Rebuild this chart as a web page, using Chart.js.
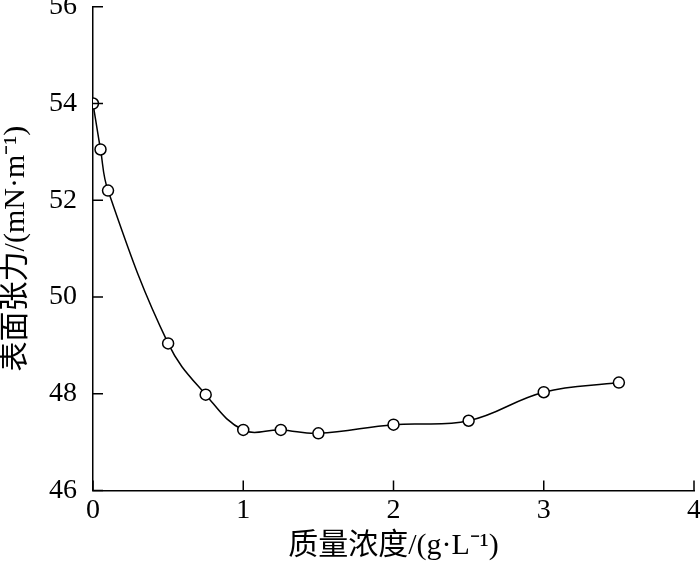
<!DOCTYPE html>
<html>
<head>
<meta charset="utf-8">
<script src="https://cdn.jsdelivr.net/npm/chart.js@4/dist/chart.umd.min.js"></script>
<style>
  html, body { margin: 0; padding: 0; background: #fff; overflow: hidden; }
  #wrap { position: absolute; left: 0; top: -26px; width: 711px; height: 593px; }
</style>
</head>
<body>
<div id="wrap"><canvas id="ch"></canvas></div>
<script>
// 质量浓度 (g/L) vs 表面张力 (mN/m)
const concentration = [0, 0.05, 0.1, 0.5, 0.75, 1.0, 1.25, 1.5, 2.0, 2.5, 3.0, 3.5];
const tension = [54.0, 53.05, 52.2, 49.04, 47.98, 47.25, 47.25, 47.18, 47.36, 47.44, 48.03, 48.23];
const xTitle = '质量浓度/(g·L⁻¹)';
const yTitle = '表面张力/(mN·m⁻¹)';

const fontFamily = "'Liberation Serif', 'Noto Sans CJK SC', serif";
const ink = '#000';

// ticks drawn inward from the axes
const inwardTicks = {
  id: 'inwardTicks',
  afterDraw(chart) {
    const { ctx, chartArea, scales } = chart;
    const len = 10;
    ctx.save();
    ctx.strokeStyle = ink;
    ctx.lineWidth = 1.5;
    ctx.beginPath();
    scales.x.ticks.forEach(t => {
      const px = scales.x.getPixelForValue(t.value);
      ctx.moveTo(px, chartArea.bottom);
      ctx.lineTo(px, chartArea.bottom - len);
    });
    scales.y.ticks.forEach(t => {
      const py = scales.y.getPixelForValue(t.value);
      ctx.moveTo(chartArea.left, py);
      ctx.lineTo(chartArea.left + len, py);
    });
    ctx.stroke();
    ctx.restore();
  },
};

const axisBase = {
  grid: { drawOnChartArea: false, drawTicks: false },
  border: { color: ink, width: 1.5 },
};

new Chart(document.getElementById('ch'), {
  type: 'line',
  data: {
    datasets: [{
      data: concentration.map((x, i) => ({ x, y: tension[i] })),
      borderColor: ink,
      borderWidth: 1.5,
      tension: 0.4,
      pointRadius: 5.5,
      pointBorderWidth: 1.5,
      pointBackgroundColor: '#fff',
      pointBorderColor: ink,
      clip: 0,
    }],
  },
  options: {
    responsive: true,
    maintainAspectRatio: false,
    animation: false,
    layout: { padding: { left: 0, right: 0, top: 0, bottom: 4 } },
    plugins: { legend: { display: false }, tooltip: { enabled: false } },
    scales: {
      x: {
        ...axisBase,
        type: 'linear',
        min: 0, max: 4,
        ticks: { stepSize: 1, color: ink, padding: 10, font: { family: fontFamily, size: 28, lineHeight: 0.7 } },
        title: { display: true, text: xTitle, color: ink, padding: 0, font: { family: fontFamily, size: 30, lineHeight: 1.1 } },
      },
      y: {
        ...axisBase,
        min: 46, max: 56,
        ticks: { stepSize: 2, color: ink, padding: 16, font: { family: fontFamily, size: 28 } },
        title: { display: true, text: yTitle, color: ink, padding: 0, font: { family: fontFamily, size: 30, lineHeight: 1.1 } },
      },
    },
  },
  plugins: [inwardTicks],
});
</script>
</body>
</html>
